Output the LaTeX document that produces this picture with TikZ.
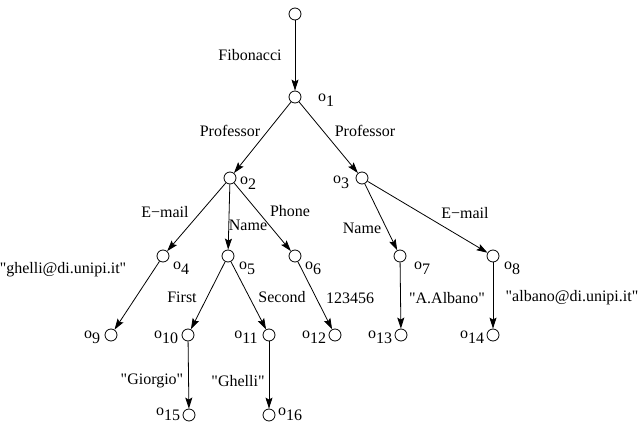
\documentclass[tikz,border=0pt]{standalone}
\usepackage{fontspec}
\setmainfont{Liberation Serif}[Ligatures=TeXOff]
\usetikzlibrary{arrows.meta}
\newcommand{\osub}[1]{o\raisebox{-5pt}{#1}}

\begin{document}
\begin{tikzpicture}[x=1pt, y=-1pt, font=\fontsize{16}{19}\selectfont,
  obj/.style={circle, draw, line width=0.8pt, minimum size=12pt, inner sep=0pt},
  lbl/.style={inner sep=0pt},
  edge/.style={line width=0.8pt, -{Stealth[length=11pt, width=7pt, inset=2pt]}}]
  \useasboundingbox (0,0) rectangle (639,425);
  % objects
  \node[obj] (r) at (295,14) {};
  \node[obj] (o1) at (295,97) {};
  \node[obj] (o2) at (230,178) {};
  \node[obj] (o3) at (362,178) {};
  \node[obj] (o4) at (163,256) {};
  \node[obj] (o5) at (228,256) {};
  \node[obj] (o6) at (295,256) {};
  \node[obj] (o7) at (400,256) {};
  \node[obj] (o8) at (493,256) {};
  \node[obj] (o9) at (111,335) {};
  \node[obj] (o10) at (188,335) {};
  \node[obj] (o11) at (269,335) {};
  \node[obj] (o12) at (335,335) {};
  \node[obj] (o13) at (401,335) {};
  \node[obj] (o14) at (493,335) {};
  \node[obj] (o15) at (189,415) {};
  \node[obj] (o16) at (269,415) {};
  % object names
  \node[lbl] (n1) at (326,100) {\osub{1}};
  \node[lbl] (n2) at (248,183) {\osub{2}};
  \node[lbl] (n3) at (341,182) {\osub{3}};
  \node[lbl] (n4) at (181,268) {\osub{4}};
  \node[lbl] (n5) at (247,268) {\osub{5}};
  \node[lbl] (n6) at (313,268) {\osub{6}};
  \node[lbl] (n7) at (422,268) {\osub{7}};
  \node[lbl] (n8) at (512,268) {\osub{8}};
  \node[lbl] (n9) at (92,337) {\osub{9}};
  \node[lbl] (n10) at (166,337) {\osub{10}};
  \node[lbl] (n11) at (246,337) {\osub{11}};
  \node[lbl] (n12) at (314,337) {\osub{12}};
  \node[lbl] (n13) at (380,337) {\osub{13}};
  \node[lbl] (n14) at (472,337) {\osub{14}};
  \node[lbl] (n15) at (168,414) {\osub{15}};
  \node[lbl] (n16) at (290,414) {\osub{16}};
  % edges
  \draw[edge] (r) -- (o1);
  \draw[edge] (o1) -- (o2);
  \draw[edge] (o1) -- (o3);
  \draw[edge] (o2) -- (o4);
  \draw[edge] (o2) -- (o5);
  \draw[edge] (o2) -- (o6);
  \draw[edge] (o3) -- (o7);
  \draw[edge] (o3) -- (o8);
  \draw[edge] (o4) -- (o9);
  \draw[edge] (o5) -- (o10);
  \draw[edge] (o5) -- (o11);
  \draw[edge] (o6) -- (o12);
  \draw[edge] (o7) -- (o13);
  \draw[edge] (o8) -- (o14);
  \draw[edge] (o10) -- (o15);
  \draw[edge] (o11) -- (o16);
  % edge labels
  \node[lbl] (fib) at (250,55) {Fibonacci};
  \node[lbl] (prof1) at (230,131) {Professor};
  \node[lbl] (prof2) at (365,131) {Professor};
  \node[lbl] (mail1) at (165,212) {E−mail};
  \node[lbl] (name1) at (248,225) {Name};
  \node[lbl] (phone) at (290,211) {Phone};
  \node[lbl] (name2) at (362,228) {Name};
  \node[lbl] (mail2) at (465,213) {E−mail};
  \node[lbl] (mailg) at (63,270) {"ghelli@di.unipi.it"};
  \node[lbl] (first) at (182,297) {First};
  \node[lbl] (second) at (282,297) {Second};
  \node[lbl] (phnum) at (350,298) {123456};
  \node[lbl] (albano) at (447,298) {"A.Albano"};
  \node[lbl] (maila) at (572,298) {"albano@di.unipi.it"};
  \node[lbl] (giorgio) at (152,381) {"Giorgio"};
  \node[lbl] (ghelli) at (238,381) {"Ghelli"};
\end{tikzpicture}
\end{document}
